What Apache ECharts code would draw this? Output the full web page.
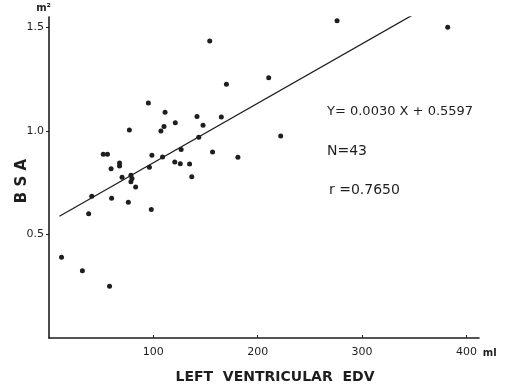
<!DOCTYPE html>
<html>
<head>
<meta charset="utf-8">
<script src="https://cdn.jsdelivr.net/npm/echarts@6/dist/echarts.min.js"></script>
<style>
  html, body { margin: 0; padding: 0; background: #fff; }
  #main { width: 505px; height: 387px; }
</style>
</head>
<body>
<div id="main"></div>
<script>
// left ventricular EDV (ml) vs BSA (m2)
const edv = [12, 32, 58, 38, 41, 60, 76, 98, 52, 56, 59.5, 67.6, 67.6, 70, 78.5, 79.5, 78.5, 83,
  77, 95.2, 96.2, 98.6, 107.2, 110.2, 111.2, 108.8, 121, 120.5, 126.6, 125.8, 134.7, 136.8,
  141.8, 143.5, 147.6, 154, 156.7, 165.1, 170, 181, 210.5, 222, 276, 382];
const bsa = [0.39, 0.325, 0.25, 0.6, 0.685, 0.675, 0.655, 0.62, 0.887, 0.887, 0.817, 0.845, 0.83, 0.776,
  0.786, 0.77, 0.754, 0.729, 1.004, 1.135, 0.825, 0.883, 1.0, 1.021, 1.09, 0.874, 1.039, 0.85,
  0.91, 0.841, 0.84, 0.779, 1.07, 0.969, 1.027, 1.434, 0.898, 1.067, 1.225, 0.873, 1.257,
  0.975, 1.532, 1.5];

// regression line as drawn
const fitX = [10, 352];
const fitY = [0.588, 1.57];

const xTicks = [100, 200, 300, 400];
const yTicks = [0.5, 1.0, 1.5];
const statLines = ['Y= 0.0030 X + 0.5597', 'N=43', 'r =0.7650'];

const chart = echarts.init(document.getElementById('main'));
const ink = '#1e1e1e';
const font = 'DejaVu Sans';

chart.setOption({
  animation: false,
  grid: { left: 49, right: 26, top: 17, bottom: 49 },
  xAxis: {
    type: 'value', min: 0, max: 412,
    name: 'ml', nameLocation: 'end', nameGap: -4,
    nameTextStyle: { color: ink, fontFamily: font, fontSize: 10, fontWeight: 'bold', verticalAlign: 'top', padding: [10, 0, 0, 0] },
    splitLine: { show: false },
    axisLine: { lineStyle: { color: ink, width: 1.6 } },
    axisTick: { show: true, inside: true, length: 3, customValues: xTicks, lineStyle: { color: ink } },
    axisLabel: { customValues: xTicks, color: ink, fontFamily: font, fontSize: 11, margin: 9 }
  },
  yAxis: {
    type: 'value', min: 0, max: 1.55,
    name: 'm²', nameLocation: 'end', nameGap: 4,
    nameTextStyle: { color: ink, fontFamily: font, fontSize: 10, fontWeight: 'bold', align: 'right', padding: [0, -2, 0, 0] },
    splitLine: { show: false },
    axisLine: { lineStyle: { color: ink, width: 1.6 } },
    axisTick: { show: true, length: 3, customValues: yTicks, lineStyle: { color: ink } },
    axisLabel: {
      customValues: yTicks, color: ink, fontFamily: font, fontSize: 11, margin: 5,
      formatter: v => v.toFixed(1)
    }
  },
  graphic: [
    {
      type: 'text', x: 22, y: 181, rotation: Math.PI / 2,
      style: { text: 'B S A', fill: ink, font: 'bold 15px "DejaVu Sans"', align: 'center', verticalAlign: 'middle' }
    },
    {
      type: 'text', x: 275, y: 377,
      style: { text: 'LEFT  VENTRICULAR  EDV', fill: ink, font: 'bold 14px "DejaVu Sans"', align: 'center', verticalAlign: 'middle' }
    },
    {
      type: 'text', x: 327, y: 112,
      style: { text: statLines[0], fill: ink, font: '13px "DejaVu Sans"', verticalAlign: 'middle' }
    },
    {
      type: 'text', x: 327, y: 151,
      style: { text: statLines[1], fill: ink, font: '14px "DejaVu Sans"', verticalAlign: 'middle' }
    },
    {
      type: 'text', x: 329, y: 190,
      style: { text: statLines[2], fill: ink, font: '14px "DejaVu Sans"', verticalAlign: 'middle' }
    }
  ],
  series: [
    {
      type: 'scatter',
      symbolSize: 5,
      itemStyle: { color: ink, opacity: 1 },
      data: edv.map((x, i) => [x, bsa[i]])
    },
    {
      type: 'line',
      symbol: 'none',
      lineStyle: { color: ink, width: 1.3 },
      data: fitX.map((x, i) => [x, fitY[i]])
    }
  ]
});
</script>
</body>
</html>
